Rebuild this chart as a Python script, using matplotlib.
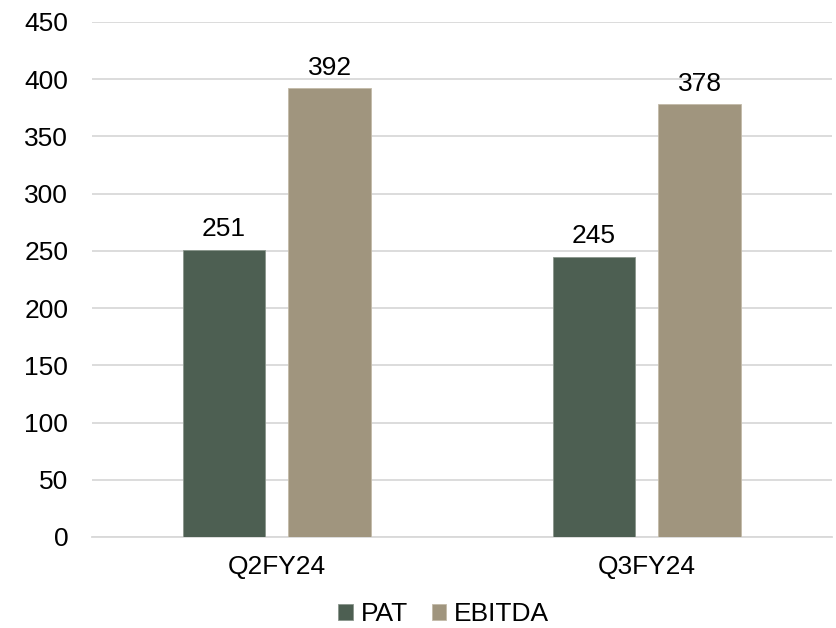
import numpy as np
import matplotlib.pyplot as plt

quarters = ['Q2FY24', 'Q3FY24']
pat = [251, 245]
ebitda = [392, 378]

plt.rcParams['font.family'] = ['Liberation Sans', 'DejaVu Sans']
fs = 19

fig = plt.figure(figsize=(8.36, 6.28), dpi=100)
ax = fig.add_axes([0.110, 0.145, 0.885, 0.820])

x = np.arange(len(quarters))
w = 0.224
off = 0.143
b1 = ax.bar(x - off, pat, w, color='#4D5F52', edgecolor='#8A968C', linewidth=0.6, label='PAT', zorder=3)
b2 = ax.bar(x + off, ebitda, w, color='#A0957E', edgecolor='#C2BAA8', linewidth=0.6, label='EBITDA', zorder=3)

# value labels on top of each bar
for bars in (b1, b2):
    for rect in bars:
        ax.annotate(f'{rect.get_height():.0f}',
                    (rect.get_x() + rect.get_width() / 2, rect.get_height()),
                    xytext=(0, 6), textcoords='offset points',
                    ha='center', va='bottom', fontsize=fs)

ax.set_xlim(-0.5, 1.5)
ax.set_ylim(0, 450)
ax.set_yticks(np.arange(0, 451, 50))
ax.set_xticks(x)
ax.set_xticklabels(quarters)
ax.tick_params(axis='both', length=0, labelsize=fs)
ax.tick_params(axis='y', pad=17)
ax.tick_params(axis='x', pad=13)

ax.grid(axis='y', color='#D9D9D9', linewidth=1.3, zorder=0)
for s in ['top', 'right', 'left']:
    ax.spines[s].set_visible(False)
ax.spines['bottom'].set_color('#D9D9D9')
ax.spines['bottom'].set_linewidth(1.3)

fig.legend(handles=[b1, b2], loc='lower center', bbox_to_anchor=(0.531, -0.035), ncol=2,
           frameon=False, fontsize=fs, handlelength=0.55, handleheight=0.55,
           handletextpad=0.3, columnspacing=0.9)

fig.savefig('out.png', dpi=100)
